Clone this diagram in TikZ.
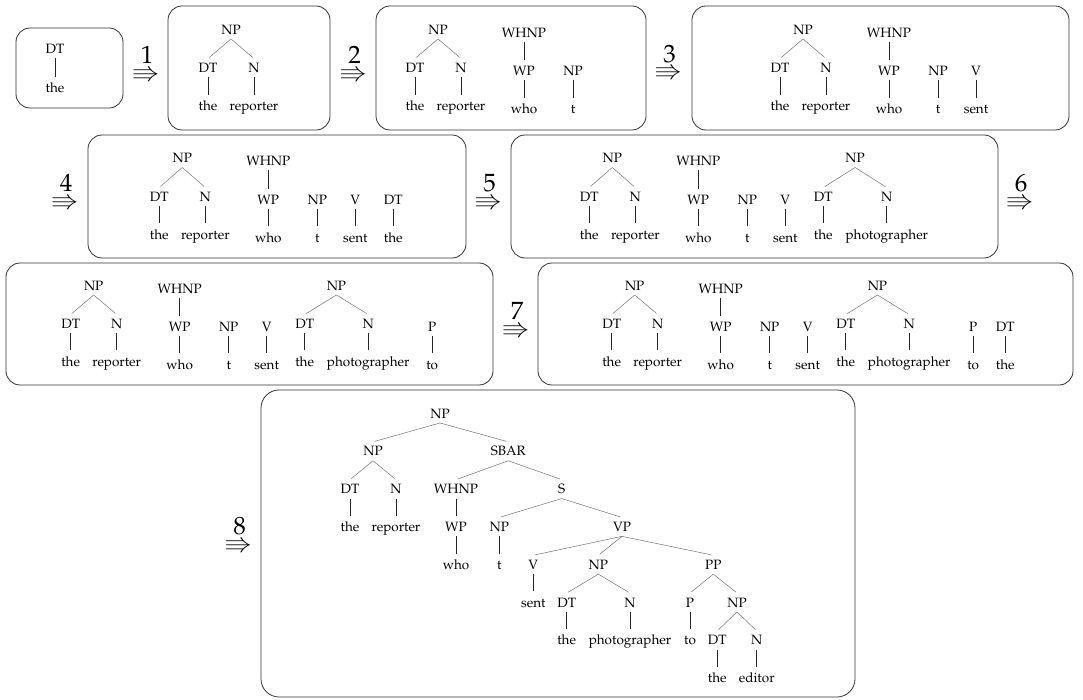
\documentclass[tikz,border=0pt]{standalone}
\usepackage[T1]{fontenc}
\usepackage{amssymb}
\usepackage{graphicx}
\usepackage{mathpazo}
\tikzset{
  lab/.style={font=\fontsize{13.5}{15}\selectfont, inner xsep=1pt, inner ysep=4.6pt, text height=9.3pt, text depth=0pt},
  br/.style={draw=black!55, line width=0.5pt, shorten >=1.7pt},
  un/.style={draw=black!85, line width=0.65pt, shorten >=1.7pt},
  box/.style={draw=black!80, line width=0.8pt, rounded corners=14pt},
  arr/.style={font=\fontsize{25}{30}\selectfont, inner sep=0pt},
  num/.style={font=\fontsize{25}{30}\selectfont, inner sep=0pt, anchor=south},
}
% prefix, xL, xR, y1, y2, y3, wordL, wordR
\newcommand{\NPtr}[8]{%
  \node[lab] (#1) at ({(#2+#3)/2},#4) {NP};
  \node[lab] (#1d) at (#2,#5) {DT};
  \node[lab] (#1n) at (#3,#5) {N};
  \node[lab] (#1dw) at (#2,#6) {#7};
  \node[lab] (#1nw) at (#3,#6) {#8};
  \draw[br] (#1.south) -- (#1d.north);
  \draw[br] (#1.south) -- (#1n.north);
  \draw[un] (#1d.south) -- (#1dw.north);
  \draw[un] (#1n.south) -- (#1nw.north);
}
% prefix, x, y2, y3, label, word
\newcommand{\Un}[6]{%
  \node[lab] (#1) at (#2,#3) {#5};
  \node[lab] (#1w) at (#2,#4) {#6};
  \draw[un] (#1.south) -- (#1w.north);
}
% prefix, x, y1, y2, y3
\newcommand{\WH}[5]{%
  \node[lab] (#1) at (#2,#3) {WHNP};
  \Un{#1p}{#2}{#4}{#5}{WP}{who}
  \draw[un] (#1.south) -- (#1p.north);
}
% name, x, y, number
\newcommand{\Step}[4]{%
  \node[arr] (r#1) at (#2,#3) {\scalebox{1.08}[0.8]{$\Rrightarrow$}};
  \node[num] (n#1) at ([xshift=1pt,yshift=1.5pt]r#1.north) {#4};
}
\begin{document}
\begin{tikzpicture}[x=1pt,y=-1pt]
\useasboundingbox (0,0) rectangle (1083,700);
% boxes
\draw[box] (16,28) rectangle (123,108);
\draw[box] (168,6) rectangle (330,130);
\draw[box] (376,6) rectangle (646,130);
\draw[box] (692,6) rectangle (1069,130);
\draw[box] (88,135) rectangle (466,258);
\draw[box] (511,135) rectangle (998,258);
\draw[box] (6,263) rectangle (493,385);
\draw[box] (538,263) rectangle (1073,385);
\draw[box, rounded corners=18pt] (261,390) rectangle (855,697);
% arrows
\Step{1}{146}{74}{1}
\Step{2}{353.5}{74}{2}
\Step{3}{668.5}{72.5}{3}
\Step{4}{65}{202}{4}
\Step{5}{488.5}{202}{5}
\Step{6}{1020}{202}{6}
\Step{7}{516}{330}{7}
\Step{8}{238.5}{545}{8}
% box 0
\Un{aa}{55}{48.5}{88}{DT}{the}
% box 1
\NPtr{ba}{208}{254}{29.5}{68}{106}{the}{reporter}
% box 2
\NPtr{ca}{415}{461}{29.5}{68}{106}{the}{reporter}
\WH{cb}{524}{32.5}{71}{109}
\Un{cc}{573}{71}{109}{NP}{t}
% box 3
\NPtr{da}{780}{826}{29.5}{68}{106}{the}{reporter}
\WH{db}{889}{32.5}{71}{109}
\Un{dc}{938}{71}{109}{NP}{t}
\Un{dd}{976}{71}{109}{V}{sent}
% box 4
\NPtr{ea}{159.3}{205.3}{158}{197}{234.5}{the}{reporter}
\WH{eb}{268.3}{161}{200}{237.5}
\Un{ec}{317.3}{200}{237.5}{NP}{t}
\Un{ed}{355.3}{200}{237.5}{V}{sent}
\Un{ee}{393.3}{200}{237.5}{DT}{the}
% box 5
\NPtr{fa}{589.3}{635.3}{158}{197}{234.5}{the}{reporter}
\WH{fb}{698.3}{161}{200}{237.5}
\Un{fc}{747.3}{200}{237.5}{NP}{t}
\Un{fd}{785.3}{200}{237.5}{V}{sent}
\NPtr{fe}{823.3}{886.8}{158}{197}{234.5}{the}{photographer}
% box 6
\NPtr{ga}{70.7}{116.7}{285.5}{324}{361.5}{the}{reporter}
\WH{gb}{179.7}{288.5}{327}{364.5}
\Un{gc}{228.7}{327}{364.5}{NP}{t}
\Un{gd}{266.7}{327}{364.5}{V}{sent}
\NPtr{ge}{304.7}{368.2}{285.5}{324}{361.5}{the}{photographer}
\Un{gf}{432.2}{327}{364.5}{P}{to}
% box 7
\NPtr{ha}{611.7}{657.7}{285.5}{324}{361.5}{the}{reporter}
\WH{hb}{720.7}{288.5}{327}{364.5}
\Un{hc}{769.7}{327}{364.5}{NP}{t}
\Un{hd}{807.7}{327}{364.5}{V}{sent}
\NPtr{he}{845.7}{909.2}{285.5}{324}{361.5}{the}{photographer}
\Un{hf}{973.2}{327}{364.5}{P}{to}
\Un{hg}{1005.2}{327}{364.5}{DT}{the}
% box 8: full tree
\node[lab] (root) at (440,413.5) {NP};
\NPtr{ka}{350}{396}{451.3}{489.1}{526.9}{the}{reporter}
\node[lab] (sbar) at (508.3,451.3) {SBAR};
\WH{kb}{456}{489.1}{526.9}{564.7}
\node[lab] (s) at (561.7,489.1) {S};
\Un{kc}{499.3}{526.9}{564.7}{NP}{t}
\node[lab] (vp) at (622,526.9) {VP};
\Un{kd}{533.3}{564.7}{602.5}{V}{sent}
\NPtr{ke}{566.7}{630}{564.7}{602.5}{640.3}{the}{photographer}
\node[lab] (pp) at (713.3,564.7) {PP};
\Un{kf}{690}{602.5}{640.3}{P}{to}
\NPtr{kg}{717.3}{756.7}{602.5}{640.3}{678.1}{the}{editor}
\draw[br] (root.south) -- (ka.north);
\draw[br] (root.south) -- (sbar.north);
\draw[br] (sbar.south) -- (kb.north);
\draw[br] (sbar.south) -- (s.north);
\draw[br] (s.south) -- (kc.north);
\draw[br] (s.south) -- (vp.north);
\draw[br] (vp.south) -- (kd.north);
\draw[br] (vp.south) -- (ke.north);
\draw[br] (vp.south) -- (pp.north);
\draw[br] (pp.south) -- (kf.north);
\draw[br] (pp.south) -- (kg.north);
\end{tikzpicture}
\end{document}
